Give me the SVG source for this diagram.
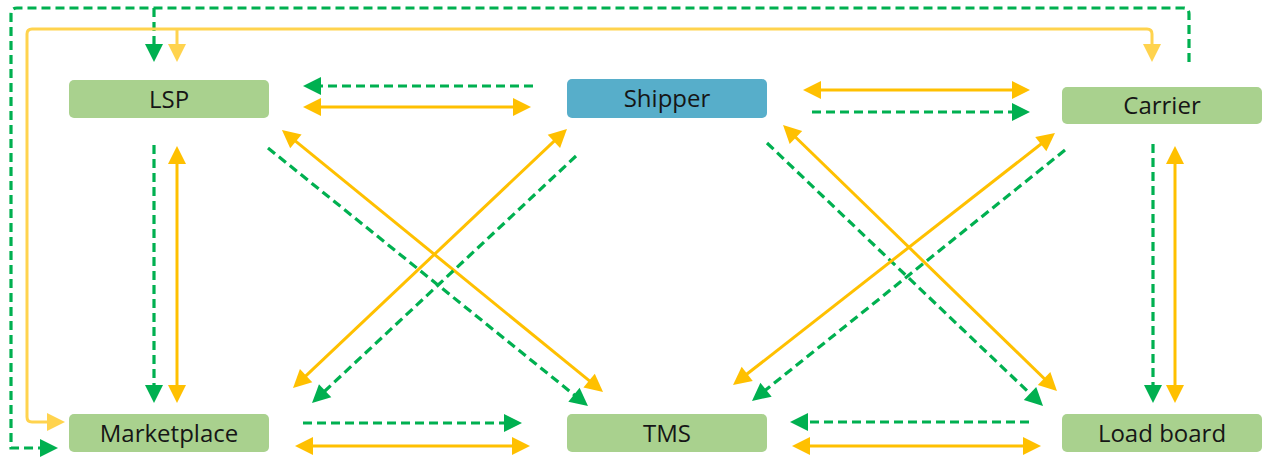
<svg xmlns="http://www.w3.org/2000/svg" width="1266" height="457" viewBox="0 0 1266 457">
  <style>
    .node { fill: #A9D18E; }
    .node.main { fill: #57AECA; }
    .label { font-family: "Open Sans", "Liberation Sans", sans-serif; font-size: 24px; fill: #161616; text-anchor: middle; }
    .g { fill: none; stroke: #00B050; stroke-width: 3.2; stroke-dasharray: 9 5; marker-end: url(#ag); }
    .y { fill: none; stroke: #FFC000; stroke-width: 3; marker-start: url(#ay); marker-end: url(#ay); }
    .yl { fill: none; stroke: #FFD34E; stroke-width: 3; }
  </style>
  <defs>
    <!-- arrowheads extend 10px beyond the path end -->
    <marker id="ag" markerUnits="userSpaceOnUse" markerWidth="18" markerHeight="18" refX="8" refY="9" orient="auto-start-reverse" overflow="visible">
      <path d="M0,0 L18,9 L0,18 Z" fill="#00B050"/>
    </marker>
    <marker id="ay" markerUnits="userSpaceOnUse" markerWidth="18" markerHeight="18" refX="8" refY="9" orient="auto-start-reverse" overflow="visible">
      <path d="M0,0 L18,9 L0,18 Z" fill="#FFC000"/>
    </marker>
    <marker id="ayl" markerUnits="userSpaceOnUse" markerWidth="18" markerHeight="18" refX="8" refY="9" orient="auto-start-reverse" overflow="visible">
      <path d="M0,0 L18,9 L0,18 Z" fill="#FFD34E"/>
    </marker>
  </defs>

  <g id="connectors">
    <!-- outer loops -->
    <path class="g" d="M1189,62 V14 Q1189,8 1183,8 H17 Q11,8 11,14 V448 H48"/>
    <path class="g" d="M154,8 V52"/>
    <path class="yl" d="M55,422 H32 Q27,422 27,417 V34 Q27,29 32,29 H1147 Q1152,29 1152,34 V52" marker-start="url(#ayl)" marker-end="url(#ayl)"/>
    <path class="yl" d="M177,29 V52" marker-end="url(#ayl)"/>

    <!-- top row -->
    <path class="g" d="M533,86 H313"/>
    <path class="y" d="M313,107 H521"/>
    <path class="y" d="M813,90 H1020"/>
    <path class="g" d="M812,112 H1020"/>

    <!-- verticals -->
    <path class="g" d="M154,145 V393"/>
    <path class="y" d="M177,156 V393"/>
    <path class="g" d="M1153,144 V393"/>
    <path class="y" d="M1175,156 V393"/>

    <!-- bottom row -->
    <path class="g" d="M303,423 H512"/>
    <path class="y" d="M305,446 H520"/>
    <path class="g" d="M1029,422 H800"/>
    <path class="y" d="M802,446 H1031"/>

    <!-- diagonals -->
    <path class="y" d="M289.7,136.3 L595.3,385.7"/>
    <path class="g" d="M268,148 L580.2,399.7"/>
    <path class="y" d="M559.7,135.9 L300.3,381.1"/>
    <path class="g" d="M576,156 L319.3,396.2"/>
    <path class="y" d="M790.2,132 L1049.8,384"/>
    <path class="g" d="M767,143 L1035.8,399.1"/>
    <path class="y" d="M1047.1,139.2 L740.9,378.8"/>
    <path class="g" d="M1065,150 L759.8,394.7"/>
  </g>

  <g id="lsp">
    <rect class="node" x="69" y="80" width="200" height="38" rx="5"/>
    <text class="label" x="169" y="107.5">LSP</text>
  </g>
  <g id="shipper">
    <rect class="node main" x="567" y="79" width="200" height="39" rx="5"/>
    <text class="label" x="667" y="107">Shipper</text>
  </g>
  <g id="carrier">
    <rect class="node" x="1062" y="87" width="200" height="37" rx="5"/>
    <text class="label" x="1162" y="114">Carrier</text>
  </g>
  <g id="marketplace">
    <rect class="node" x="69" y="414" width="200" height="38" rx="5"/>
    <text class="label" x="169" y="441.5">Marketplace</text>
  </g>
  <g id="tms">
    <rect class="node" x="567" y="414" width="200" height="38" rx="5"/>
    <text class="label" x="667" y="441.5">TMS</text>
  </g>
  <g id="load-board">
    <rect class="node" x="1062" y="414" width="200" height="38" rx="5"/>
    <text class="label" x="1162" y="441.5">Load board</text>
  </g>
</svg>
